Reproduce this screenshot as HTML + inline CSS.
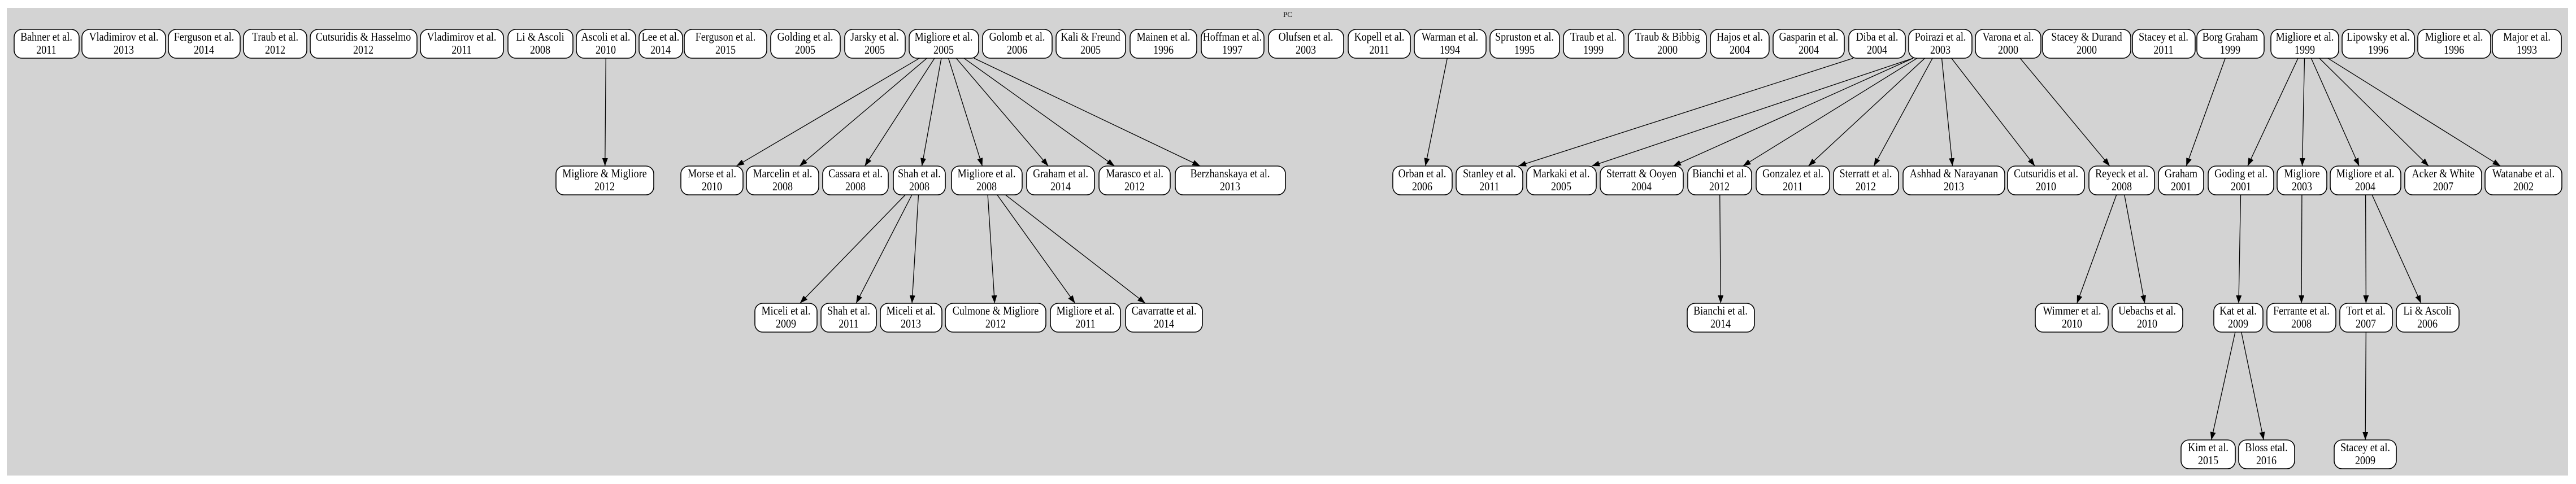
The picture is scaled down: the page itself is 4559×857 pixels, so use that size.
<!DOCTYPE html>
<html><head><meta charset="utf-8"><style>
html,body{margin:0;padding:0;background:#fff;}
svg{display:block;}
text{font-family:"Liberation Serif",serif;font-size:21px;fill:#000;}
#labels text{transform:scaleX(0.86);transform-box:fill-box;transform-origin:center;}
</style></head><body>
<svg id="s" width="4559" height="857" xmlns="http://www.w3.org/2000/svg">
<defs><marker id="a" markerWidth="14" markerHeight="10" refX="14" refY="5" orient="auto" markerUnits="userSpaceOnUse"><path d="M0,0 L14,5 L0,10 z" fill="#000"/></marker></defs>
<rect x="12" y="14" width="4533" height="828" fill="#d3d3d3"/>
<text x="2279" y="30" text-anchor="middle" style="font-size:13px">PC</text>
<g id="edges" stroke="#000" stroke-width="1.3" fill="none"></g>
<g id="nodes" fill="#fff" stroke="#000" stroke-width="1.6"></g>
<g id="labels" text-anchor="middle">
<text x="82" y="72">Bahner et al.</text><text x="82" y="95">2011</text>
<text x="219" y="72">Vladimirov et al.</text><text x="219" y="95">2013</text>
<text x="361" y="72">Ferguson et al.</text><text x="361" y="95">2014</text>
<text x="487" y="72">Traub et al.</text><text x="487" y="95">2012</text>
<text x="643" y="72">Cutsuridis &amp; Hasselmo</text><text x="643" y="95">2012</text>
<text x="817" y="72">Vladimirov et al.</text><text x="817" y="95">2011</text>
<text x="956" y="72">Li &amp; Ascoli</text><text x="956" y="95">2008</text>
<text x="1072" y="72">Ascoli et al.</text><text x="1072" y="95">2010</text>
<text x="1169" y="72">Lee et al.</text><text x="1169" y="95">2014</text>
<text x="1284" y="72">Ferguson et al.</text><text x="1284" y="95">2015</text>
<text x="1425" y="72">Golding et al.</text><text x="1425" y="95">2005</text>
<text x="1548" y="72">Jarsky et al.</text><text x="1548" y="95">2005</text>
<text x="1670" y="72">Migliore et al.</text><text x="1670" y="95">2005</text>
<text x="1800" y="72">Golomb et al.</text><text x="1800" y="95">2006</text>
<text x="1930" y="72">Kali &amp; Freund</text><text x="1930" y="95">2005</text>
<text x="2059" y="72">Mainen et al.</text><text x="2059" y="95">1996</text>
<text x="2181" y="72">Hoffman et al.</text><text x="2181" y="95">1997</text>
<text x="2311" y="72">Olufsen et al.</text><text x="2311" y="95">2003</text>
<text x="2441" y="72">Kopell et al.</text><text x="2441" y="95">2011</text>
<text x="2566" y="72">Warman et al.</text><text x="2566" y="95">1994</text>
<text x="2698" y="72">Spruston et al.</text><text x="2698" y="95">1995</text>
<text x="2820" y="72">Traub et al.</text><text x="2820" y="95">1999</text>
<text x="2951" y="72">Traub &amp; Bibbig</text><text x="2951" y="95">2000</text>
<text x="3079" y="72">Hajos et al.</text><text x="3079" y="95">2004</text>
<text x="3201" y="72">Gasparin et al.</text><text x="3201" y="95">2004</text>
<text x="3322" y="72">Diba et al.</text><text x="3322" y="95">2004</text>
<text x="3434" y="72">Poirazi et al.</text><text x="3434" y="95">2003</text>
<text x="3554" y="72">Varona et al.</text><text x="3554" y="95">2000</text>
<text x="3693" y="72">Stacey &amp; Durand</text><text x="3693" y="95">2000</text>
<text x="3829" y="72">Stacey et al.</text><text x="3829" y="95">2011</text>
<text x="3947" y="72">Borg Graham</text><text x="3947" y="95">1999</text>
<text x="4079" y="72">Migliore et al.</text><text x="4079" y="95">1999</text>
<text x="4209" y="72">Lipowsky et al.</text><text x="4209" y="95">1996</text>
<text x="4343" y="72">Migliore et al.</text><text x="4343" y="95">1996</text>
<text x="4472" y="72">Major et al.</text><text x="4472" y="95">1993</text>

<text x="1070" y="314">Migliore &amp; Migliore</text><text x="1070" y="337">2012</text>
<text x="1260" y="314">Morse et al.</text><text x="1260" y="337">2010</text>
<text x="1385" y="314">Marcelin et al.</text><text x="1385" y="337">2008</text>
<text x="1514" y="314">Cassara et al.</text><text x="1514" y="337">2008</text>
<text x="1627" y="314">Shah et al.</text><text x="1627" y="337">2008</text>
<text x="1746" y="314">Migliore et al.</text><text x="1746" y="337">2008</text>
<text x="1877" y="314">Graham et al.</text><text x="1877" y="337">2014</text>
<text x="2008" y="314">Marasco et al.</text><text x="2008" y="337">2012</text>
<text x="2177" y="314">Berzhanskaya et al.</text><text x="2177" y="337">2013</text>
<text x="2517" y="314">Orban et al.</text><text x="2517" y="337">2006</text>
<text x="2636" y="314">Stanley et al.</text><text x="2636" y="337">2011</text>
<text x="2763" y="314">Markaki et al.</text><text x="2763" y="337">2005</text>
<text x="2905" y="314">Sterratt &amp; Ooyen</text><text x="2905" y="337">2004</text>
<text x="3043" y="314">Bianchi et al.</text><text x="3043" y="337">2012</text>
<text x="3173" y="314">Gonzalez et al.</text><text x="3173" y="337">2011</text>
<text x="3302" y="314">Sterratt et al.</text><text x="3302" y="337">2012</text>
<text x="3458" y="314">Ashhad &amp; Narayanan</text><text x="3458" y="337">2013</text>
<text x="3621" y="314">Cutsuridis et al.</text><text x="3621" y="337">2010</text>
<text x="3755" y="314">Reyeck et al.</text><text x="3755" y="337">2008</text>
<text x="3860" y="314">Graham</text><text x="3860" y="337">2001</text>
<text x="3966" y="314">Goding et al.</text><text x="3966" y="337">2001</text>
<text x="4074" y="314">Migliore</text><text x="4074" y="337">2003</text>
<text x="4186" y="314">Migliore et al.</text><text x="4186" y="337">2004</text>
<text x="4324" y="314">Acker &amp; White</text><text x="4324" y="337">2007</text>
<text x="4466" y="314">Watanabe et al.</text><text x="4466" y="337">2002</text>

<text x="1391" y="557">Miceli et al.</text><text x="1391" y="580">2009</text>
<text x="1502" y="557">Shah et al.</text><text x="1502" y="580">2011</text>
<text x="1612" y="557">Miceli et al.</text><text x="1612" y="580">2013</text>
<text x="1762" y="557">Culmone &amp; Migliore</text><text x="1762" y="580">2012</text>
<text x="1921" y="557">Migliore et al.</text><text x="1921" y="580">2011</text>
<text x="2060" y="557">Cavarratte et al.</text><text x="2060" y="580">2014</text>
<text x="3045" y="557">Bianchi et al.</text><text x="3045" y="580">2014</text>
<text x="3667" y="557">Wimmer et al.</text><text x="3667" y="580">2010</text>
<text x="3800" y="557">Uebachs et al.</text><text x="3800" y="580">2010</text>
<text x="3961" y="557">Kat et al.</text><text x="3961" y="580">2009</text>
<text x="4073" y="557">Ferrante et al.</text><text x="4073" y="580">2008</text>
<text x="4187" y="557">Tort et al.</text><text x="4187" y="580">2007</text>
<text x="4296" y="557">Li &amp; Ascoli</text><text x="4296" y="580">2006</text>

<text x="3908" y="799">Kim et al.</text><text x="3908" y="822">2015</text>
<text x="4011" y="799">Bloss etal.</text><text x="4011" y="822">2016</text>
<text x="4186" y="799">Stacey et al.</text><text x="4186" y="822">2009</text>
</g>
</svg>
<script>
var N={
r0:[[25,140],[145,293],[298,425],[431,543],[549,738],[744,891],[899,1014],[1020,1125],[1131,1208],[1211,1357],[1364,1487],[1495,1602],[1609,1732],[1739,1862],[1869,1992],[2000,2118],[2126,2237],[2245,2378],[2386,2496],[2503,2630],[2637,2760],[2767,2874],[2882,3020],[3027,3131],[3138,3264],[3272,3372],[3378,3490],[3496,3612],[3615,3771],[3774,3885],[3888,4007],[4019,4139],[4145,4273],[4279,4408],[4411,4533]],
r1:[[984,1157],[1205,1315],[1321,1449],[1456,1572],[1581,1673],[1684,1809],[1817,1937],[1945,2071],[2080,2275],[2465,2570],[2577,2695],[2702,2825],[2832,2979],[2987,3100],[3108,3238],[3245,3360],[3368,3548],[3553,3689],[3697,3813],[3820,3900],[3908,4024],[4030,4118],[4124,4249],[4256,4392],[4398,4534]],
r2:[[1336,1446],[1453,1551],[1558,1667],[1673,1851],[1859,1983],[1992,2128],[2986,3105],[3602,3731],[3738,3863],[3918,4005],[4012,4134],[4141,4234],[4241,4352]],
r3:[[3860,3956],[3962,4061],[4131,4241]]};
var Y=[52,294,537,779],H=51,ns="http://www.w3.org/2000/svg";
var g=document.getElementById('nodes'),eg=document.getElementById('edges');
['r0','r1','r2','r3'].forEach(function(k,i){N[k].forEach(function(b){var r=document.createElementNS(ns,'rect');r.setAttribute('x',b[0]);r.setAttribute('y',Y[i]);r.setAttribute('width',b[1]-b[0]);r.setAttribute('height',H);r.setAttribute('rx',14);g.appendChild(r);});});
function c(r,i){var b=N['r'+r][i];return [(b[0]+b[1])/2,b,r];}
var E=[[0,7,1,0],[0,12,1,1],[0,12,1,2],[0,12,1,3],[0,12,1,4],[0,12,1,5],[0,12,1,6],[0,12,1,7],[0,12,1,8],
[1,4,2,0],[1,4,2,1],[1,4,2,2],[1,5,2,3],[1,5,2,4],[1,5,2,5],
[0,19,1,9],[0,25,1,10],[0,26,1,11],[0,26,1,12],[0,26,1,13],[0,26,1,14],[0,26,1,15],[0,26,1,16],[0,26,1,17],[0,27,1,18],
[1,13,2,6],[1,18,2,7],[1,18,2,8],[0,30,1,19],[0,31,1,20],[0,31,1,21],[0,31,1,22],[0,31,1,23],[0,31,1,24],
[1,20,2,9],[1,21,2,10],[1,22,2,11],[1,22,2,12],[2,9,3,0],[2,9,3,1],[2,11,3,2]];
E.forEach(function(e){var p=c(e[0],e[1]),q=c(e[2],e[3]);var dx=q[0]-p[0];var off=dx*0.105;
var hw=(p[1][1]-p[1][0])/2-8;var sx=p[0]+Math.max(-hw,Math.min(hw,off));
var hw2=(q[1][1]-q[1][0])/2-8;var tx=q[0]-Math.max(-hw2,Math.min(hw2,off));
var l=document.createElementNS(ns,'line');l.setAttribute('x1',sx);l.setAttribute('y1',Y[e[0]]+H);l.setAttribute('x2',tx);l.setAttribute('y2',Y[e[2]]);l.setAttribute('marker-end','url(#a)');eg.appendChild(l);});
</script>
</body></html>
